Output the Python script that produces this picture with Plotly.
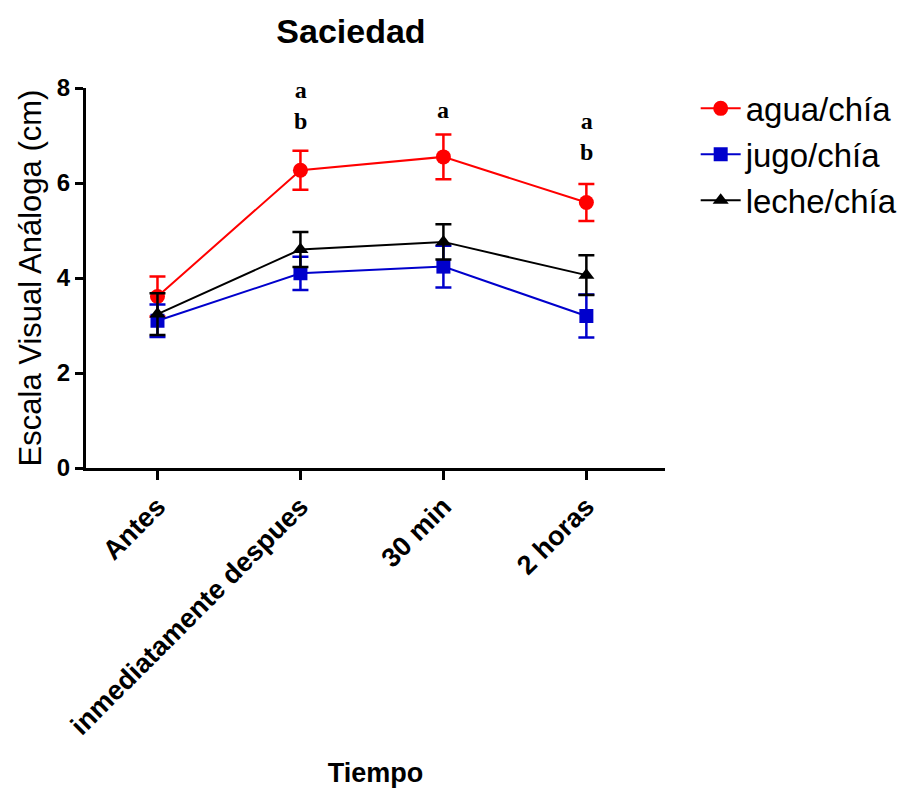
import plotly.graph_objects as go

categories = ["Antes", "inmediatamente despues", "30 min", "2 horas"]
series_names = ["agua/chía", "jugo/chía", "leche/chía"]
agua = [3.61, 6.27, 6.55, 5.59]
agua_err = [0.42, 0.41, 0.47, 0.39]
jugo = [3.10, 4.10, 4.24, 3.20]
jugo_err = [0.34, 0.35, 0.44, 0.45]
leche = [3.24, 4.60, 4.76, 4.06]
leche_err = [0.44, 0.37, 0.37, 0.42]
sig_labels = ["", "a<br>b", "a", "a<br>b"]
sig_y = [0, 7.63, 7.54, 6.97]

colors = ["#ff0000", "#0000cc", "#000000"]
symbols = ["circle", "square", "triangle-up"]
sizes = [15, 14, 14]
values = [agua, jugo, leche]
errors = [agua_err, jugo_err, leche_err]

x = list(range(len(categories)))
fig = go.Figure()
for i in range(3):
    fig.add_trace(go.Scatter(
        x=x, y=values[i], name=series_names[i], mode="lines+markers",
        line=dict(color=colors[i], width=2),
        marker=dict(color=colors[i], symbol=symbols[i], size=sizes[i]),
        error_y=dict(type="data", array=errors[i], color=colors[i], thickness=2.5, width=8),
    ))

for xi, lab, yy in zip(x, sig_labels, sig_y):
    if lab:
        fig.add_annotation(x=xi, y=yy, text="<b>" + lab + "</b>", showarrow=False,
                           font=dict(family="Liberation Serif", size=24, color="black"),
                           yanchor="middle")

fig.update_layout(
    width=910, height=791,
    margin=dict(l=86, r=245, t=88, b=323, autoexpand=False),
    paper_bgcolor="white", plot_bgcolor="white",
    font=dict(family="Liberation Sans, Arial", color="black"),
    title=dict(text="<b>Saciedad</b>", x=351 / 910, xanchor="center",
               y=1 - 31 / 791, yanchor="middle",
               font=dict(family="Liberation Sans, Arial", size=34, color="black")),
    showlegend=True,
    legend=dict(x=1.053, y=1.02, xanchor="left", yanchor="top",
                font=dict(size=33, family="Liberation Sans, Arial"),
                tracegroupgap=0, itemwidth=40),
    xaxis=dict(
        range=[-0.5, 3.55], tickvals=x, ticktext=["<b>" + c + "</b>" for c in categories],
        tickangle=-45, showline=True, linecolor="black", linewidth=3,
        ticks="outside", ticklen=9, tickwidth=2.5, tickcolor="black",
        tickfont=dict(size=27), showgrid=False, zeroline=False, automargin=False,
        title=dict(text="<b>Tiempo</b>", font=dict(size=27), standoff=24),
    ),
    yaxis=dict(
        range=[0, 8], tickvals=[0, 2, 4, 6, 8], ticktext=["<b>%d</b>" % v for v in [0, 2, 4, 6, 8]],
        showline=True, linecolor="black", linewidth=3,
        ticks="outside", ticklen=8, tickwidth=2.5, tickcolor="black",
        tickfont=dict(size=24), showgrid=False, zeroline=False, automargin=False,
        title=dict(text="Escala Visual Análoga (cm)", font=dict(size=31), standoff=6),
    ),
)

fig.write_html("out.html")
